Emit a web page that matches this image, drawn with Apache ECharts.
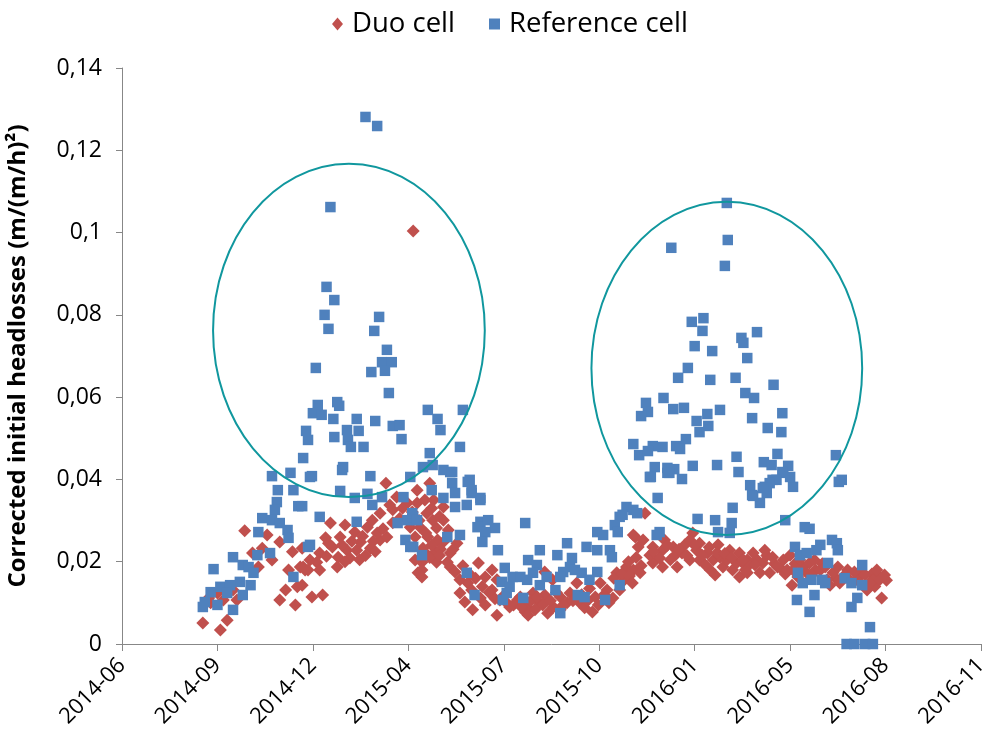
<!DOCTYPE html>
<html>
<head>
<meta charset="utf-8">
<script src="https://cdn.jsdelivr.net/npm/echarts@6/dist/echarts.min.js"></script>
<style>html,body{margin:0;padding:0;background:#fff}#chart{width:988px;height:730px}</style>
</head>
<body>
<div id="chart"></div>
<script>
// x values: days since 2014-06-15 (axis start); major tick every 98 days
const tickLabels = ['2014-06','2014-09','2014-12','2015-04','2015-07','2015-10','2016-01','2016-05','2016-08','2016-11'];
const yTicks = [0,0.02,0.04,0.06,0.08,0.1,0.12,0.14];

const duoCell = [
[83,0.0051],[101,0.0034],[108,0.0058],[91,0.0100],[104,0.0107],[118,0.0107],[114,0.0131],[98,0.0124],[89,0.0112],
[126,0.0275],[149,0.0265],[162,0.0248],[144,0.0233],[134,0.0221],[154,0.0204],[140,0.0187],[175,0.0224],[185,0.0233],[171,0.0180],[183,0.0187],[188,0.0180],[180,0.0139],[168,0.0131],[162,0.0107],[178,0.0095],
[271,0.0391],[214,0.0294],[229,0.0289],[239,0.0272],[252,0.0284],[257,0.0301],[265,0.0318],[275,0.0338],[282,0.0357],[209,0.0258],[224,0.0260],[245,0.0248],[265,0.0253],[216,0.0236],[231,0.0228],[241,0.0228],[255,0.0233],[262,0.0270],[203,0.0221],[222,0.0211],[234,0.0209],[193,0.0204],[200,0.0199],[186,0.0187],[191,0.0180],[221,0.0187],[203,0.0180],[185,0.0143],[195,0.0114],[206,0.0119],[296,0.0284],[301,0.0260],[304,0.0173],[272,0.0260],[278,0.0326],[293,0.0343],
[212,0.0245],[226,0.0240],[236,0.0250],[247,0.0262],[250,0.0215],[258,0.0250],[268,0.0280],[278,0.0295],[285,0.0305],[288,0.0330],[260,0.0225],[244,0.0205],[229,0.0200],[210,0.0213],
[299,0.1004],
[303,0.0374],[316,0.0391],[303,0.0343],[320,0.0350],[330,0.0333],[313,0.0318],[330,0.0301],[306,0.0284],[323,0.0282],[335,0.0277],[314,0.0260],[330,0.0248],[344,0.0245],[309,0.0233],[322,0.0224],[337,0.0221],[308,0.0199],[323,0.0199],[337,0.0187],[308,0.0180],[308,0.0163],[342,0.0175],[347,0.0156],[355,0.0148],[366,0.0197],[380,0.0180],[373,0.0163],[347,0.0124],[359,0.0131],[352,0.0102],[368,0.0112],[360,0.0083],[373,0.0095],[385,0.0070],[380,0.0131],[388,0.0107],[398,0.0090],[406,0.0107],[414,0.0078],[417,0.0100],[385,0.0156],
[298,0.0321],[319,0.0301],[324,0.0253],[314,0.0216],[334,0.0199],[301,0.0204],
[305,0.0300],[311,0.0350],[318,0.0330],[326,0.0310],[312,0.0270],[318,0.0240],[327,0.0230],[340,0.0230],[316,0.0210],[326,0.0215],
[350,0.0190],[357,0.0170],[363,0.0160],[370,0.0140],[377,0.0125],[383,0.0110],[392,0.0118],[395,0.0100],[402,0.0095],
[434,0.0175],[442,0.0156],[422,0.0124],[434,0.0119],[450,0.0114],[460,0.0124],[416,0.0090],[429,0.0100],[443,0.0090],[457,0.0100],[470,0.0100],[483,0.0078],[417,0.0070],[437,0.0075],[491,0.0148],[498,0.0131],[486,0.0114],[504,0.0112],[508,0.0173],[518,0.0187],[525,0.0180],[527,0.0260],[530,0.0236],[467,0.0148],
[424,0.0083],[450,0.0083],[465,0.0114],[475,0.0088],[409,0.0114],[511,0.0131],[516,0.0156],
[410,0.0090],[420,0.0105],[426,0.0115],[432,0.0095],[440,0.0105],[446,0.0125],[453,0.0095],[463,0.0105],[472,0.0120],[478,0.0105],[480,0.0135],[489,0.0095],[495,0.0120],[500,0.0100],
[505,0.0160],[513,0.0170],[520,0.0200],[528,0.0210],[533,0.0190],[521,0.0165],
[537,0.0318],[525,0.0265],[535,0.0253],[545,0.0236],[555,0.0228],[566,0.0236],[575,0.0221],[586,0.0270],[593,0.0245],[583,0.0204],[570,0.0187],[555,0.0187],[545,0.0197],[532,0.0173],[524,0.0148],[601,0.0221],[607,0.0204],[614,0.0211],[624,0.0228],[634,0.0221],[617,0.0187],[627,0.0180],[634,0.0163],[642,0.0204],[593,0.0204],[604,0.0180],
[542,0.0216],[552,0.0209],[568,0.0216],[578,0.0241],[590,0.0228],[599,0.0192],[612,0.0241],[621,0.0204],[631,0.0197],[640,0.0180],[557,0.0253],[583,0.0253],[609,0.0168],
[546,0.0225],[560,0.0240],[563,0.0205],[572,0.0230],[580,0.0215],[588,0.0240],[596,0.0215],[603,0.0235],[611,0.0222],[619,0.0220],[626,0.0210],[636,0.0200],[645,0.0195],[652,0.0205],[662,0.0215],[670,0.0195],[676,0.0185],[681,0.0170],[691,0.0195],[699,0.0188],[712,0.0180],[719,0.0195],[733,0.0160],[745,0.0180],[755,0.0160],[760,0.0175],[770,0.0170],[773,0.0140],[777,0.0165],[785,0.0155],
[638,0.0204],[648,0.0221],[658,0.0197],[668,0.0211],[679,0.0204],[665,0.0173],[683,0.0180],[642,0.0173],[655,0.0173],[696,0.0204],[706,0.0197],[689,0.0180],[688,0.0143],[703,0.0173],[717,0.0180],[730,0.0173],[737,0.0148],[747,0.0156],[758,0.0148],[771,0.0156],[778,0.0156],[765,0.0131],[780,0.0112],[724,0.0156],[711,0.0204],
[650,0.0192],[660,0.0228],[673,0.0187],[686,0.0216],[694,0.0163],[708,0.0168],[722,0.0187],[735,0.0187],[742,0.0168],[752,0.0175],[763,0.0168],[775,0.0180],[768,0.0148],[783,0.0168],[727,0.0143]
];

const referenceCell = [
[154,0.0408],[173,0.0416],[160,0.0374],[176,0.0374],[159,0.0345],[181,0.0335],[157,0.0326],[144,0.0306],[154,0.0301],[162,0.0294],[140,0.0272],[170,0.0277],[171,0.0258],[114,0.0211],[139,0.0216],[152,0.0221],[124,0.0192],[130,0.0187],[135,0.0173],[94,0.0182],[121,0.0151],[132,0.0143],[101,0.0139],[91,0.0126],[111,0.0143],[108,0.0124],[124,0.0119],[85,0.0102],[98,0.0095],[114,0.0083],[83,0.0090],[176,0.0163],[191,0.0236],
[195,0.0408],[226,0.0423],[255,0.0408],[296,0.0406],[224,0.0372],[252,0.0365],[267,0.0357],[289,0.0357],[239,0.0355],[257,0.0338],[185,0.0335],[203,0.0309],[241,0.0297],[283,0.0294],[293,0.0301],[299,0.0309],[291,0.0253],[299,0.0236],[193,0.0241],
[318,0.0374],[330,0.0355],[339,0.0391],[342,0.0367],[355,0.0394],[359,0.0367],[368,0.0350],[337,0.0418],[342,0.0333],[354,0.0338],[298,0.0318],[303,0.0301],[368,0.0297],[376,0.0301],[383,0.0282],[365,0.0284],[373,0.0272],[370,0.0248],[386,0.0228],[414,0.0294],[347,0.0265],[334,0.0260],[296,0.0236],[308,0.0216],[417,0.0204],[354,0.0173],[393,0.0185],[390,0.0151],[401,0.0163],[409,0.0163],[398,0.0139],[362,0.0119],[391,0.0107],[412,0.0112],[395,0.0124],
[518,0.0333],[525,0.0326],[511,0.0309],[506,0.0289],[509,0.0272],[488,0.0272],[494,0.0265],[457,0.0245],[477,0.0236],[488,0.0228],[501,0.0228],[503,0.0211],[429,0.0228],[447,0.0216],[426,0.0192],[462,0.0209],[460,0.0187],[453,0.0175],[465,0.0180],[422,0.0173],[436,0.0163],[450,0.0163],[472,0.0173],[488,0.0175],[480,0.0156],[416,0.0156],[429,0.0143],[445,0.0131],[468,0.0119],[475,0.0114],[511,0.0143],[496,0.0107],[450,0.0075],
[542,0.0406],[560,0.0416],[575,0.0401],[550,0.0355],[529,0.0318],[591,0.0304],[609,0.0301],[626,0.0294],[627,0.0331],[612,0.0272],[624,0.0270],[552,0.0272],[549,0.0265],
[645,0.0386],[660,0.0382],[668,0.0399],[679,0.0416],[689,0.0382],[647,0.0362],[662,0.0367],[655,0.0343],[739,0.0399],[681,0.0301],[701,0.0284],[706,0.0280],[691,0.0236],[717,0.0241],[729,0.0253],[734,0.0245],[696,0.0216],[703,0.0221],[713,0.0228],[735,0.0228],[725,0.0197],[760,0.0192],[694,0.0173],[699,0.0148],[708,0.0156],[719,0.0156],[722,0.0148],[742,0.0160],[749,0.0148],[760,0.0143],[755,0.0112],[749,0.0090],[711,0.0119],[693,0.0107],[706,0.0078],[768,0.0041],[744,0],[752,0],[763,0],[771,0],
[250,0.1281],[262,0.1259],[214,0.1062],[210,0.0868],[218,0.0836],[208,0.0800],[212,0.0766],[264,0.0795],[259,0.0761],[272,0.0715],[267,0.0685],[277,0.0685],[256,0.0661],[270,0.0664],[199,0.0671],[274,0.0610],[201,0.0581],[221,0.0588],[223,0.0579],[196,0.0561],[205,0.0557],[217,0.0547],[241,0.0547],[260,0.0542],[189,0.0518],[191,0.0496],[218,0.0503],[231,0.0520],[243,0.0518],[232,0.0496],[235,0.0479],[248,0.0479],[278,0.0530],[285,0.0532],[287,0.0498],[314,0.0569],[324,0.0547],[327,0.0520],[350,0.0569],[347,0.0479],[316,0.0464],[309,0.0430],[319,0.0435],[330,0.0423],[339,0.0418],[186,0.0452],[227,0.0430],[193,0.0406],[357,0.0399],[359,0.0374],[368,0.0355],
[621,0.1072],[622,0.0982],[564,0.0963],[619,0.0919],[585,0.0783],[597,0.0792],[596,0.0761],[588,0.0724],[606,0.0712],[636,0.0744],[638,0.0732],[652,0.0758],[642,0.0695],[581,0.0671],[571,0.0647],[604,0.0642],[630,0.0647],[669,0.0630],[640,0.0610],[649,0.0598],[538,0.0586],[556,0.0598],[540,0.0564],[533,0.0554],[566,0.0571],[577,0.0574],[614,0.0569],[601,0.0559],[590,0.0542],[602,0.0530],[593,0.0515],[647,0.0549],[678,0.0561],[663,0.0525],[677,0.0515],[525,0.0486],[545,0.0481],[531,0.0459],[540,0.0469],[555,0.0479],[569,0.0481],[579,0.0498],[573,0.0474],[547,0.0430],[560,0.0428],[567,0.0425],[543,0.0406],[562,0.0416],[586,0.0433],[611,0.0435],[631,0.0455],[633,0.0418],[659,0.0442],[673,0.0462],[667,0.0435],[684,0.0433],[678,0.0418],[686,0.0406],[672,0.0399],[665,0.0391],[648,0.0360],[658,0.0379],[733,0.0459],[736,0.0394],[514,0.0314]
];

// Annotation ellipses (data units: centre [day, value], radii [days, value])
const ellipseCenters = [[233,0.0762],[621,0.0670]];
const ellipseRadii = [[139.5,0.0405],[139,0.0405]];

const TICK_DAYS = 98;
const FONT = '"Open Sans", "Noto Sans", sans-serif';
const AXIS_COLOR = '#878787';

const chart = echarts.init(document.getElementById('chart'), null, {renderer:'canvas'});
const option = {
  animation: false,
  backgroundColor: '#ffffff',
  textStyle: {fontFamily: FONT},
  legend: {
    top: 5,
    left: 327,
    itemGap: 34,
    itemWidth: 11,
    itemHeight: 13,
    textStyle: {fontFamily: FONT, fontSize: 27.5, color: '#000', padding:[0,0,0,4]},
    data: [
      {name:'Duo cell', icon:'diamond'},
      {name:'Reference cell', icon:'path://M0,0H10V10H0Z'}
    ]
  },
  grid: {left:122, right:7, top:68, bottom:86, containLabel:false, outerBoundsMode:'none'},
  xAxis: {
    type:'value', min:0, max:TICK_DAYS*(tickLabels.length-1), interval:TICK_DAYS,
    splitLine:{show:false},
    axisLine:{show:true, lineStyle:{color:AXIS_COLOR, width:1}},
    axisTick:{show:true, length:7, lineStyle:{color:AXIS_COLOR}},
    axisLabel:{
      rotate:45, margin:18, fontSize:22, color:'#000', fontFamily:FONT,
      showMinLabel:true, showMaxLabel:true,
      formatter: v => tickLabels[Math.round(v/TICK_DAYS)]
    }
  },
  yAxis: {
    type:'value', min:yTicks[0], max:yTicks[yTicks.length-1], interval:0.02,
    splitLine:{show:false},
    axisLine:{show:true, lineStyle:{color:AXIS_COLOR, width:1}},
    axisTick:{show:true, length:6, lineStyle:{color:AXIS_COLOR}},
    axisLabel:{
      margin:20, fontSize:23, color:'#000', fontFamily:FONT,
      formatter: v => v === 0 ? '0' : String(parseFloat(v.toFixed(2))).replace('.', ',')
    },
    name:'Corrected initial headlosses (m/(m/h)²)',
    nameLocation:'middle', nameRotate:90, nameGap:92,
    nameTextStyle:{fontSize:24, fontWeight:'bold', color:'#000', fontFamily:FONT}
  },
  series: [
    {name:'Duo cell', type:'scatter', symbol:'diamond', symbolSize:13,
     itemStyle:{color:'#C0504D', opacity:1}, data: duoCell, z:2},
    {name:'Reference cell', type:'scatter', symbol:'rect', symbolSize:10.5,
     itemStyle:{color:'#4F81BD', opacity:1}, data: referenceCell, z:3}
  ]
};
chart.setOption(option);

function drawEllipses(){
  const els = ellipseCenters.map((c, i) => {
    const p = chart.convertToPixel({gridIndex:0}, c);
    const q = chart.convertToPixel({gridIndex:0}, [c[0]+ellipseRadii[i][0], c[1]+ellipseRadii[i][1]]);
    return {
      type:'ellipse', z:10, silent:true,
      shape:{cx:p[0], cy:p[1], rx:Math.abs(q[0]-p[0]), ry:Math.abs(p[1]-q[1])},
      style:{fill:null, stroke:'#10979E', lineWidth:2}
    };
  });
  chart.setOption({graphic: els});
}
drawEllipses();
</script>
</body>
</html>
